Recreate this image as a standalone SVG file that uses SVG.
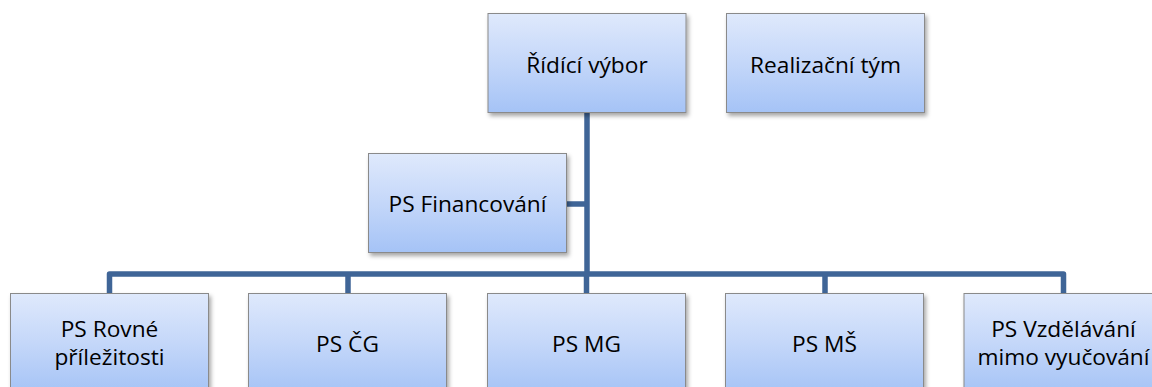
<svg xmlns="http://www.w3.org/2000/svg" width="1152" height="387" viewBox="0 0 1152 387">
<style>
.box{fill:url(#g);stroke:#8a8a8a;stroke-width:1;filter:url(#sh)}
.t{font-family:"Open Sans","Liberation Sans",sans-serif;font-size:22.7px;fill:#000;text-anchor:middle}
.c{fill:none;stroke:#3f6597;stroke-width:5.5;stroke-linejoin:round}
</style>
<defs>
<linearGradient id="g" x1="0" y1="0" x2="0" y2="1">
<stop offset="0" stop-color="#dfe9fc"/>
<stop offset="0.5" stop-color="#c4d7f9"/>
<stop offset="1" stop-color="#a5c3f6"/>
</linearGradient>
<filter id="sh" x="-10%" y="-10%" width="130%" height="140%">
<feDropShadow dx="2" dy="3" stdDeviation="2" flood-color="#000" flood-opacity="0.35"/>
</filter>
</defs>
<g id="connectors">
<path class="c" d="M587 113 V274"/>
<path class="c" d="M566 204 H587"/>
<path class="c" d="M109.5 293 V274 H1063.5 V293"/>
<path class="c" d="M348 274 V293"/>
<path class="c" d="M586.5 274 V293"/>
<path class="c" d="M825 274 V293"/>
</g>
<g id="ridici-vybor">
<rect class="box" x="488" y="13.5" width="198" height="99"/>
<text class="t" x="587" y="72.5">Řídící výbor</text>
</g>
<g id="realizacni-tym">
<rect class="box" x="726.5" y="13.5" width="198" height="99"/>
<text class="t" x="825.5" y="72.5">Realizační tým</text>
</g>
<g id="ps-financovani">
<rect class="box" x="368.5" y="153.5" width="198" height="99"/>
<text class="t" x="467.5" y="212">PS Financování</text>
</g>
<g id="ps-rovne-prilezitosti">
<rect class="box" x="10.5" y="293.5" width="198" height="100"/>
<text class="t" x="109.5" y="336.5">PS Rovné</text>
<text class="t" x="109.5" y="365">příležitosti</text>
</g>
<g id="ps-cg">
<rect class="box" x="248.5" y="293.5" width="198" height="100"/>
<text class="t" x="347.5" y="352">PS ČG</text>
</g>
<g id="ps-mg">
<rect class="box" x="487.5" y="293.5" width="198" height="100"/>
<text class="t" x="586.5" y="352">PS MG</text>
</g>
<g id="ps-ms">
<rect class="box" x="725.5" y="293.5" width="198" height="100"/>
<text class="t" x="824.5" y="352">PS MŠ</text>
</g>
<g id="ps-vzdelavani">
<rect class="box" x="964" y="293.5" width="198" height="100"/>
<text class="t" x="1063.5" y="336.5">PS Vzdělávání</text>
<text class="t" x="1063.5" y="365">mimo vyučování</text>
</g>
</svg>
